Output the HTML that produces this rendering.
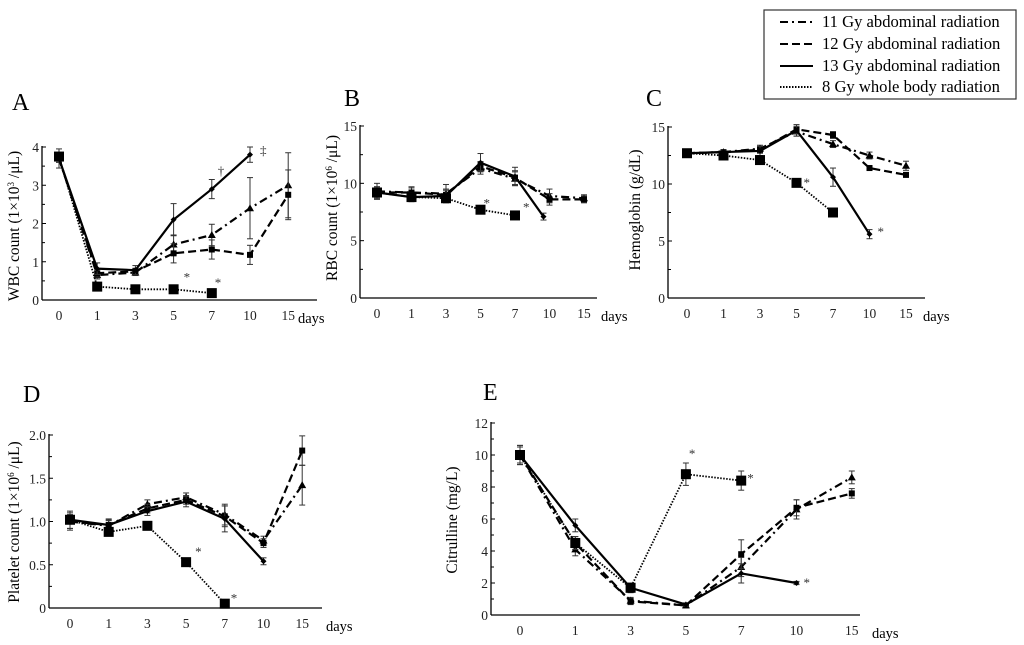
<!DOCTYPE html>
<html><head><meta charset="utf-8"><style>
html,body{margin:0;padding:0;background:#fff;}
svg{display:block;font-family:"Liberation Serif",serif;}
</style></head><body>
<svg id="fig" width="1024" height="645" viewBox="0 0 1024 645" xmlns="http://www.w3.org/2000/svg">
<g>
<rect x="764" y="10" width="252" height="89" fill="#fff" stroke="#333" stroke-width="1.2"/>
<line x1="780" y1="22" x2="813" y2="22" stroke="#000" stroke-width="2" stroke-dasharray="8,4,2,4"/>
<text x="822" y="27" font-size="16.6">11 Gy abdominal radiation</text>
<line x1="780" y1="44" x2="813" y2="44" stroke="#000" stroke-width="2" stroke-dasharray="8,4"/>
<text x="822" y="49" font-size="16.6">12 Gy abdominal radiation</text>
<line x1="780" y1="66" x2="813" y2="66" stroke="#000" stroke-width="2"/>
<text x="822" y="71" font-size="16.6">13 Gy abdominal radiation</text>
<line x1="780" y1="87" x2="813" y2="87" stroke="#000" stroke-width="2" stroke-dasharray="1.5,1.5"/>
<text x="822" y="92" font-size="16.6">8 Gy whole body radiation</text>
</g>
</svg>
<script>
const days = ["0","1","3","5","7","10","15"];
// Panel A: WBC
const wbc11 = [3.7,0.65,0.72,1.45,1.7,2.4,3.0];
const wbc12 = [3.7,0.7,0.75,1.22,1.32,1.18,2.75];
const wbc13 = [3.7,0.82,0.78,2.1,2.9,3.8];
const wbc8  = [3.75,0.35,0.28,0.28,0.18];
const wbc11e = [0.1,0.1,0.08,0.25,0.28,0.8,0.85];
const wbc12e = [0.1,0.1,0.08,0.25,0.25,0.25,0.65];
const wbc13e = [0.25,0.15,0.12,0.42,0.25,0.2];
const wbcTicks = [0,1,2,3,4];
// Panel B: RBC
const rbc11 = [9.3,9.2,9.1,11.3,10.4,8.9,8.7];
const rbc12 = [9.2,9.2,9.0,11.5,10.5,8.6,8.6];
const rbc13 = [9.2,8.8,8.9,11.8,10.6,7.1];
const rbc8  = [9.2,8.8,8.7,7.7,7.2];
const rbc11e = [0.7,0.5,0.8,0.5,0.6,0.6,0.3];
const rbc12e = [0.5,0.4,0.5,0.4,0.6,0.5,0.3];
const rbc13e = [0.5,0.4,0.5,0.8,0.8,0.3];
const rbcTicks = [0,5,10,15];
// Panel C: Hemoglobin
const hb11 = [12.7,12.8,13.1,14.6,13.5,12.5,11.6];
const hb12 = [12.7,12.8,13.0,14.8,14.3,11.4,10.8];
const hb13 = [12.7,12.8,12.9,14.7,10.6,5.6];
const hb8  = [12.7,12.5,12.1,10.1,7.5];
const hb11e = [0.2,0.2,0.3,0.4,0.3,0.3,0.4];
const hb12e = [0.2,0.2,0.3,0.4,0.3,0.2,0.2];
const hb13e = [0.2,0.2,0.4,0.5,0.8,0.4];
const hbTicks = [0,5,10,15];
// Panel D: Platelet
const plt11 = [1.0,0.95,1.2,1.28,1.08,0.78,1.42];
const plt12 = [1.0,0.96,1.15,1.25,1.06,0.75,1.82];
const plt13 = [1.02,0.96,1.12,1.23,1.03,0.54];
const plt8  = [1.02,0.88,0.95,0.53,0.05];
const plt11e = [0.08,0.06,0.05,0.05,0.12,0.05,0.23];
const plt12e = [0.1,0.06,0.05,0.05,0.12,0.05,0.17];
const plt13e = [0.1,0.07,0.05,0.06,0.15,0.04];
const pltTicks = [0,0.5,1.0,1.5,2.0];
// Panel E: Citrulline
const cit11 = [10,4.1,0.9,0.6,3.0,6.6,8.6];
const cit12 = [10,4.5,0.85,0.6,3.8,6.7,7.6];
const cit13 = [10,5.6,1.7,0.65,2.6,2.0];
const cit8  = [10,4.5,1.7,8.8,8.4];
const cit11e = [0.5,0.4,0.2,0.1,0.6,0.6,0.4];
const cit12e = [0.5,0.4,0.2,0.1,0.9,0.5,0.3];
const cit13e = [0.6,0.4,0.3,0.1,0.6,0.1];
const cit8e  = [0.6,0.4,0.3,0.7,0.6];
const citTicks = [0,2,4,6,8,10,12];

const NS = "http://www.w3.org/2000/svg";
const svg = document.getElementById("fig");
function mk(tag, attrs, parent){ const e=document.createElementNS(NS,tag); for(const k in attrs) e.setAttribute(k,attrs[k]); (parent||svg).appendChild(e); return e; }

const styles = {
  s11:{dash:"8,4,2,4", marker:"tri"},
  s12:{dash:"8,4", marker:"sq"},
  s13:{dash:"", marker:"dia"},
  s8:{dash:"1.5,1.5", marker:"big"}
};

function panel(cfg){
  const g = mk("g",{});
  
  
  const ymax = cfg.ticks[cfg.ticks.length-1];
  const X = i => cfg.x0 + i*cfg.dx;
  const Y = v => cfg.yb - (v/ymax)*(cfg.yb-cfg.yt);
  const L = mk("text",{x:cfg.lx,y:cfg.ly,"font-size":24},g); L.textContent=cfg.id;
  
  
  const ya = mk("line",{x1:cfg.ax,y1:cfg.yt-1,x2:cfg.ax,y2:cfg.yb,stroke:"#000","stroke-width":1.3},g);
  
  
  const xa = mk("line",{x1:cfg.ax,y1:cfg.yb,x2:cfg.xe,y2:cfg.yb,stroke:"#000","stroke-width":1.3},g);
  
  
  cfg.ticks.forEach((t,i)=>{
    const y=Y(t);
    mk("line",{x1:cfg.ax,y1:y,x2:cfg.ax+4,y2:y,stroke:"#000"},g);
    if(i<cfg.ticks.length-1){ const ym=(y+Y(cfg.ticks[i+1]))/2; mk("line",{x1:cfg.ax,y1:ym,x2:cfg.ax+3,y2:ym,stroke:"#000"},g); }
    const tl = mk("text",{x:cfg.ax-3,y:y+5,"font-size":13.5,"text-anchor":"end",fill:"#222"},g);
    tl.textContent = cfg.fmt ? t.toFixed(1).replace(/^0\.0$/,"0") : String(t);
    
    
  });
  days.forEach((d,i)=>{
    const tl = mk("text",{x:X(i),y:cfg.yb+20,"font-size":13.5,"text-anchor":"middle",fill:"#222"},g);
    tl.textContent=d;
    
    
  });
  const dl = mk("text",{x:cfg.daysx,y:cfg.yb+23,"font-size":14.5},g); dl.textContent="days";
  
  
  const yt = mk("text",{x:0,y:0,"font-size":15.5,"text-anchor":"middle",transform:`translate(${cfg.ytx},${cfg.yty}) rotate(-90)`},g);
  yt.innerHTML = cfg.ytitle;
  
  
  cfg.series.forEach(s=>{
    const st = styles[s.key];
    const sg = mk("g",{},g);
    
    
    const xs = s.vals.map((v,i)=>X(i)+(s.xoff&&s.xoff[i]?s.xoff[i]:0));
    if(s.err) s.err.forEach((e,i)=>{ if(i>=s.vals.length) return; const x=xs[i];
      mk("line",{x1:x,y1:Y(s.vals[i]-e),x2:x,y2:Y(s.vals[i]+e),stroke:"#333","stroke-width":1},sg);
      mk("line",{x1:x-3,y1:Y(s.vals[i]+e),x2:x+3,y2:Y(s.vals[i]+e),stroke:"#333","stroke-width":1},sg);
      mk("line",{x1:x-3,y1:Y(s.vals[i]-e),x2:x+3,y2:Y(s.vals[i]-e),stroke:"#333","stroke-width":1},sg);
    });
    const pts = s.vals.map((v,i)=>xs[i]+","+Y(v)).join(" ");
    const pl = mk("polyline",{points:pts,fill:"none",stroke:"#000","stroke-width":st.marker==="big"?1.8:2.2,"stroke-dasharray":st.dash},sg);
    
    
    s.vals.forEach((v,i)=>{
      const x=xs[i], y=Y(v); let m;
      if(st.marker==="big") m=mk("rect",{x:x-5,y:y-5,width:10,height:10,fill:"#000"},sg);
      else if(st.marker==="sq") m=mk("rect",{x:x-3,y:y-3,width:6,height:6,fill:"#000"},sg);
      else if(st.marker==="tri") m=mk("polygon",{points:`${x},${y-4} ${x-4},${y+3} ${x+4},${y+3}`,fill:"#000"},sg);
      else m=mk("polygon",{points:`${x},${y-3} ${x+3},${y} ${x},${y+3} ${x-3},${y}`,fill:"#000"},sg);
      
      
    });
  });
  (cfg.notes||[]).forEach(n=>{
    const t = mk("text",{x:X(n.i)+n.dx,y:Y(n.v)+n.dy,"font-size":13,fill:"#333"},g);
    t.textContent=n.t;
    
    
  });
}

panel({id:"A",lx:12,ly:110,ax:42,xe:317,yt:147,yb:300,x0:59,dx:38.2,ticks:wbcTicks,daysx:298,ytx:19,yty:226,
  ytitle:'WBC count (1×10<tspan baseline-shift="super" font-size="9">3</tspan> /μL)',
  series:[{key:"s11",vals:wbc11,err:wbc11e},{key:"s12",vals:wbc12,err:wbc12e},{key:"s13",vals:wbc13,err:wbc13e},{key:"s8",vals:wbc8}],
  notes:[{i:3,v:0.28,dx:10,dy:-8,t:"*"},{i:4,v:0.18,dx:3,dy:-6,t:"*"},{i:4,v:2.9,dx:6,dy:-14,t:"†"},{i:5,v:3.8,dx:10,dy:0,t:"‡"}]});
panel({id:"B",lx:344,ly:106,ax:360,xe:597,yt:126,yb:298,x0:377,dx:34.5,ticks:rbcTicks,daysx:601,ytx:337,yty:208,
  ytitle:'RBC count  (1×10<tspan baseline-shift="super" font-size="9">6</tspan> /μL)',
  series:[{key:"s11",vals:rbc11,err:rbc11e},{key:"s12",vals:rbc12,err:rbc12e},{key:"s13",vals:rbc13,err:rbc13e,xoff:[0,0,0,0,0,-6]},{key:"s8",vals:rbc8}],
  notes:[{i:3,v:7.7,dx:3,dy:-2,t:"*"},{i:4,v:7.2,dx:8,dy:-4,t:"*"}]});
panel({id:"C",lx:646,ly:106,ax:668,xe:925,yt:127,yb:298,x0:687,dx:36.5,ticks:hbTicks,daysx:923,ytx:640,yty:210,
  ytitle:'Hemoglobin (g/dL)',
  series:[{key:"s11",vals:hb11,err:hb11e},{key:"s12",vals:hb12,err:hb12e},{key:"s13",vals:hb13,err:hb13e},{key:"s8",vals:hb8}],
  notes:[{i:3,v:10.1,dx:7,dy:4,t:"*"},{i:5,v:5.6,dx:8,dy:2,t:"*"}]});
panel({id:"D",lx:23,ly:402,ax:49,xe:322,yt:435,yb:608,x0:70,dx:38.7,ticks:pltTicks,fmt:true,daysx:326,ytx:19,yty:522,
  ytitle:'Platelet count  (1×10<tspan baseline-shift="super" font-size="9">6</tspan> /μL)',
  series:[{key:"s11",vals:plt11,err:plt11e},{key:"s12",vals:plt12,err:plt12e},{key:"s13",vals:plt13,err:plt13e},{key:"s8",vals:plt8}],
  notes:[{i:3,v:0.53,dx:9,dy:-6,t:"*"},{i:4,v:0.05,dx:6,dy:-1,t:"*"}]});
panel({id:"E",lx:483,ly:400,ax:491,xe:860,yt:423,yb:615,x0:520,dx:55.3,ticks:citTicks,daysx:872,ytx:457,yty:520,
  ytitle:'Citrulline (mg/L)',
  series:[{key:"s11",vals:cit11,err:cit11e},{key:"s12",vals:cit12,err:cit12e},{key:"s13",vals:cit13,err:cit13e},{key:"s8",vals:cit8,err:cit8e}],
  notes:[{i:3,v:8.8,dx:3,dy:-16,t:"*"},{i:4,v:8.4,dx:6,dy:2,t:"*"},{i:5,v:2.0,dx:7,dy:4,t:"*"}]});
</script>
</body></html>
